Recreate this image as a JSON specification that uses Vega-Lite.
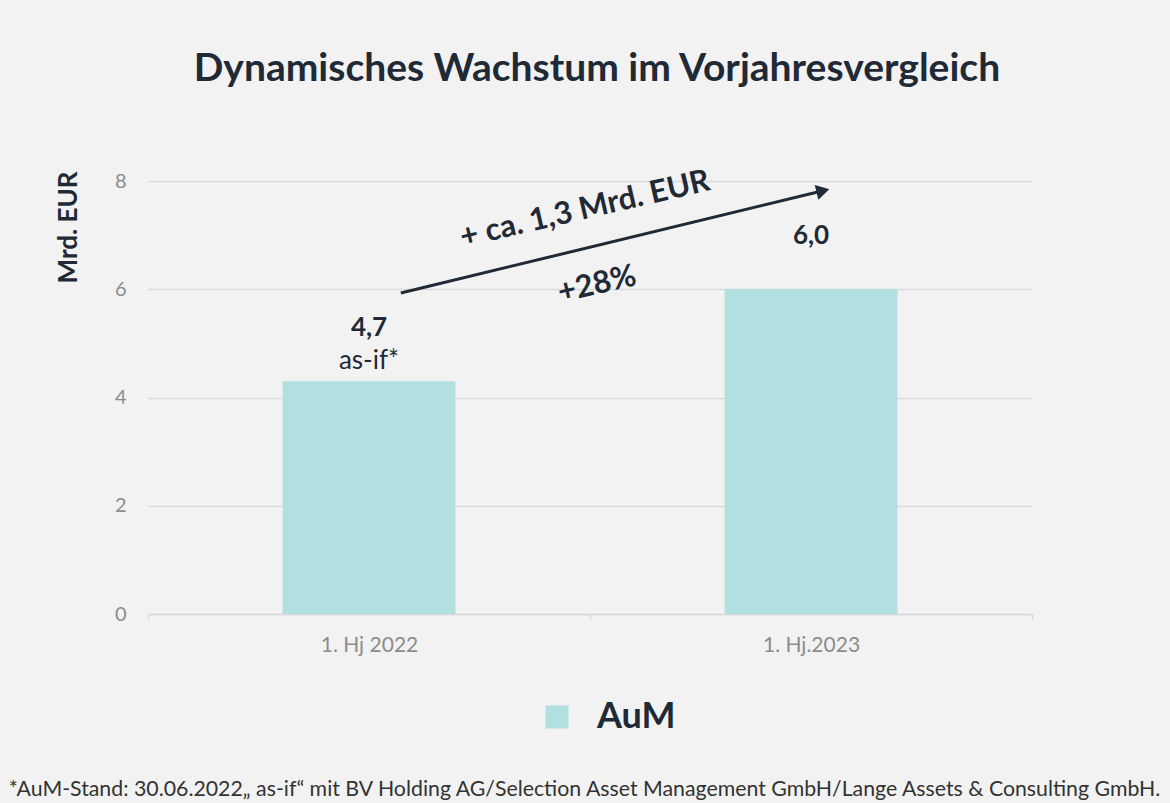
{
  "$schema": "https://vega.github.io/schema/vega-lite/v6.json",
  "width": 884,
  "height": 433,
  "autosize": {"type": "none"},
  "padding": {"left": 148, "top": 181, "right": 138, "bottom": 189},
  "background": "#f2f2f2",
  "title": {
    "text": "Dynamisches Wachstum im Vorjahresvergleich",
    "font": "Lato",
    "fontSize": 39,
    "fontWeight": "bold",
    "color": "#1f2a36",
    "anchor": "middle",
    "frame": "group",
    "baseline": "alphabetic",
    "offset": 45,
    "dx": 7
  },
  "datasets": {
    "bars": [
      {"period": "1. Hj 2022", "aum": 4.3, "label": "4,7", "note": "as-if*", "series": "AuM"},
      {"period": "1. Hj.2023", "aum": 6.0, "label": "6,0", "note": "", "series": "AuM"}
    ],
    "arrow": [
      {"x": 0.572, "y": 5.93, "x2": 1.527, "y2": 7.82}
    ],
    "arrowText": [
      {"text": "+ ca. 1,3 Mrd. EUR", "x": 0.989, "y": 7.47},
      {"text": "+28%", "x": 1.016, "y": 6.08}
    ]
  },
  "layer": [
    {
      "data": {"name": "bars"},
      "encoding": {
        "x": {
          "field": "period",
          "type": "nominal",
          "sort": null,
          "scale": {"paddingInner": 0, "paddingOuter": 0},
          "axis": {
            "title": "*AuM-Stand: 30.06.2022„ as-if“ mit BV Holding AG/Selection Asset Management GmbH/Lange Assets & Consulting GmbH.",
            "titleFont": "Lato",
            "titleFontSize": 21.3,
            "titleFontWeight": "normal",
            "titleColor": "#333333",
            "titleY": 181,
            "titleX": 436,
            "titleBaseline": "alphabetic",
            "labelAngle": 0,
            "labelFont": "Lato",
            "labelFontSize": 21,
            "labelColor": "#8c8c8c",
            "labelPadding": 14,
            "tickBand": "extent",
            "tickSize": 6,
            "tickColor": "#d9d9d9",
            "tickWidth": 1.5,
            "domainColor": "#d9d9d9",
            "domainWidth": 1.5,
            "grid": false
          }
        },
        "y": {
          "field": "aum",
          "type": "quantitative",
          "scale": {"domain": [0, 8], "nice": false},
          "axis": {
            "title": "Mrd. EUR",
            "titleFont": "Lato",
            "titleFontSize": 26,
            "titleFontWeight": "bold",
            "titleColor": "#1f2a36",
            "titleX": -80,
            "titleY": 46,
            "titleAngle": -90,
            "titleAlign": "center",
            "titleBaseline": "middle",
            "values": [0, 2, 4, 6, 8],
            "labelFont": "Lato",
            "labelFontSize": 20,
            "labelColor": "#8c8c8c",
            "labelPadding": 22,
            "ticks": false,
            "domain": false,
            "grid": true,
            "gridColor": "#d9d9d9",
            "gridWidth": 1.5
          }
        }
      },
      "layer": [
        {
          "mark": {"type": "bar", "width": {"band": 0.391}},
          "encoding": {
            "color": {
              "field": "series",
              "type": "nominal",
              "scale": {"range": ["#b2dfdf"]},
              "legend": {
                "title": null,
                "orient": "none",
                "legendX": 391,
                "legendY": 518,
                "padding": 0,
                "symbolType": "square",
                "symbolSize": 529,
                "symbolStrokeWidth": 0,
                "labelFont": "Lato",
                "labelFontSize": 36,
                "labelFontWeight": "bold",
                "labelColor": "#1f2a36",
                "labelOffset": 22
              }
            }
          }
        },
        {
          "mark": {"type": "text", "font": "Lato", "fontSize": 26, "fontWeight": "bold", "color": "#1f2a36", "dy": -53, "baseline": "middle"},
          "encoding": {"text": {"field": "label"}}
        },
        {
          "mark": {"type": "text", "font": "Lato", "fontSize": 26, "fontWeight": "normal", "color": "#1f2a36", "dy": -20, "baseline": "middle"},
          "encoding": {"text": {"field": "note"}}
        }
      ]
    },
    {
      "data": {"name": "arrow"},
      "mark": {"type": "rule", "strokeWidth": 3, "color": "#1f2a36"},
      "encoding": {
        "x": {"field": "x", "type": "quantitative", "scale": {"domain": [0, 2], "nice": false, "zero": false}, "axis": null},
        "x2": {"field": "x2"},
        "y": {"field": "y", "type": "quantitative", "title": "Mrd. EUR"},
        "y2": {"field": "y2"}
      }
    },
    {
      "data": {"name": "arrow"},
      "mark": {"type": "point", "shape": "triangle-right", "filled": true, "opacity": 1, "size": 230, "angle": 346.5, "color": "#1f2a36"},
      "encoding": {
        "x": {"field": "x2", "type": "quantitative", "scale": {"domain": [0, 2], "nice": false, "zero": false}, "axis": null},
        "y": {"field": "y2", "type": "quantitative", "title": "Mrd. EUR"}
      }
    },
    {
      "data": {"name": "arrowText"},
      "mark": {"type": "text", "font": "Lato", "fontSize": 31, "fontWeight": "bold", "color": "#1f2a36", "angle": 347, "align": "center", "baseline": "middle"},
      "encoding": {
        "x": {"field": "x", "type": "quantitative", "scale": {"domain": [0, 2], "nice": false, "zero": false}, "axis": null},
        "y": {"field": "y", "type": "quantitative", "title": "Mrd. EUR"},
        "text": {"field": "text"}
      }
    }
  ],
  "resolve": {"scale": {"x": "independent"}},
  "config": {"view": {"stroke": null}}
}
